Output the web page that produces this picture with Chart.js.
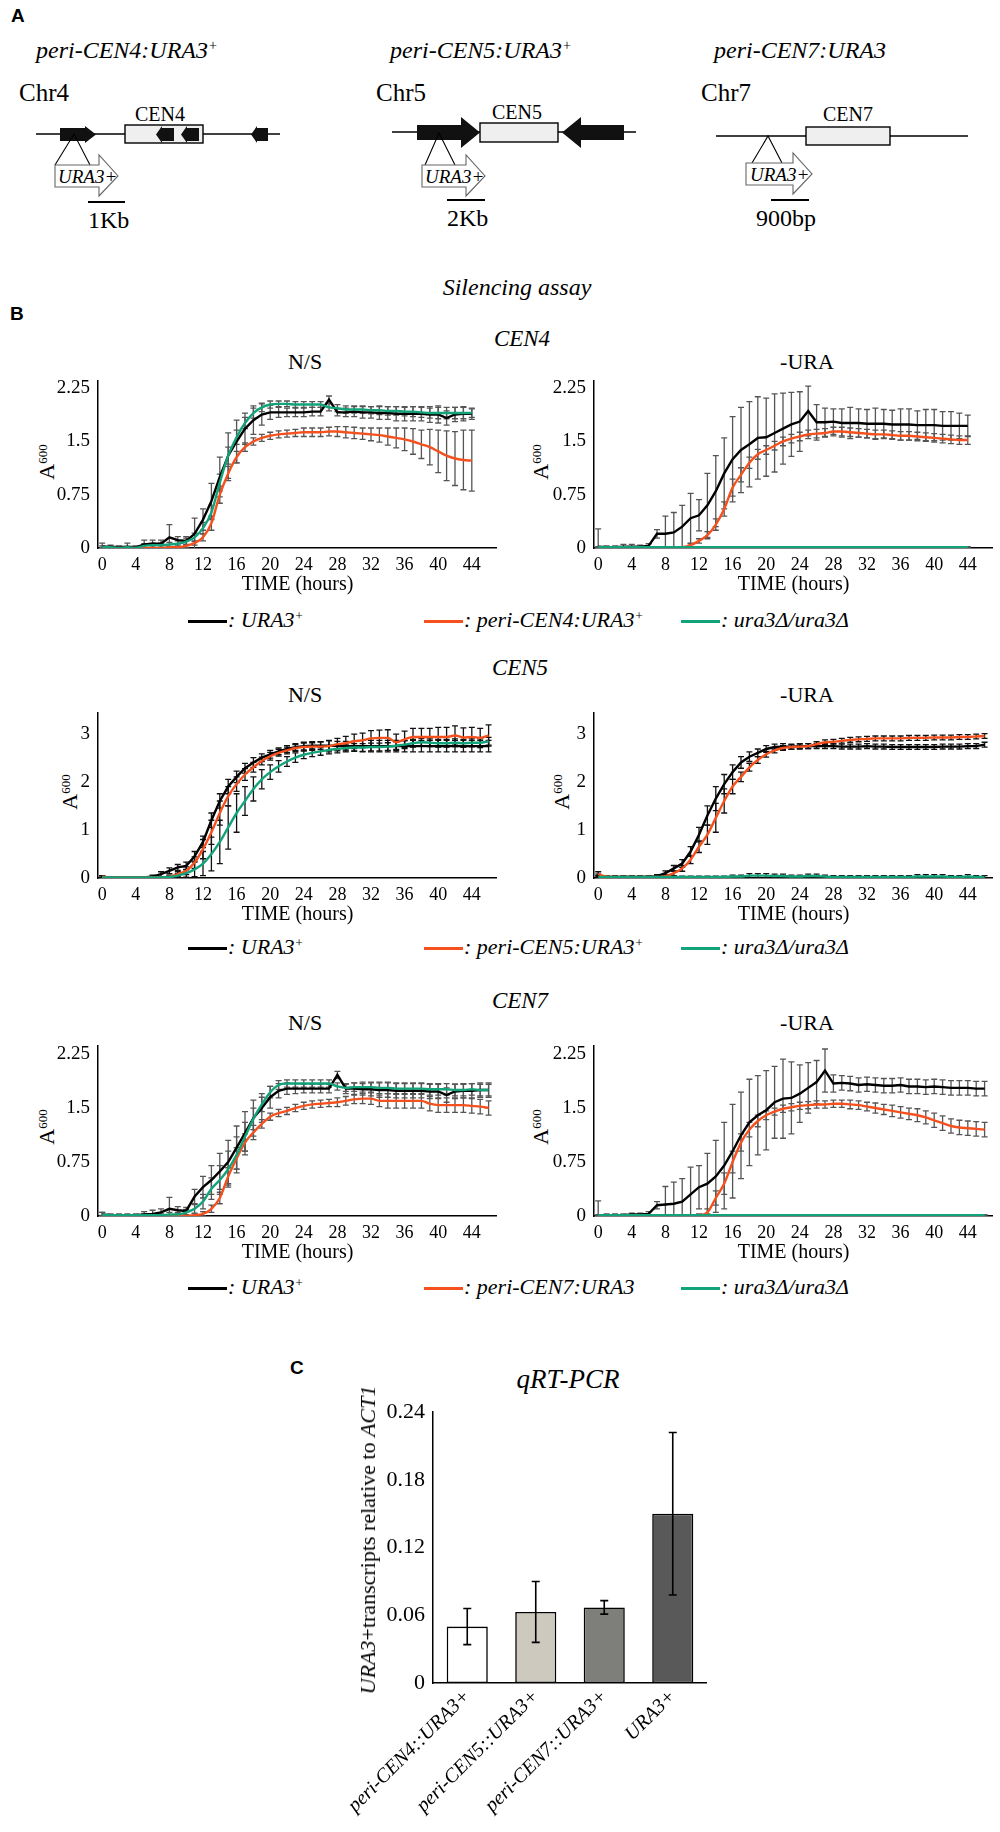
<!DOCTYPE html>
<html>
<head>
<meta charset="utf-8">
<script src="https://cdn.jsdelivr.net/npm/chart.js@4.4.0/dist/chart.umd.min.js"></script>
<style>
  body { margin: 0; background: #fff; }
  #page { position: relative; width: 1000px; height: 1832px; overflow: hidden; background: #fff;
          font-family: 'Liberation Serif', 'Times New Roman', serif; color: #000; }
  .t { position: absolute; white-space: nowrap; line-height: 1; }
  .c { transform: translateX(-50%); }
  .i { font-style: italic; }
  .lab { font-family: 'Liberation Sans', Arial, sans-serif; font-weight: bold; font-size: 19px; }
  .rot { position: absolute; white-space: nowrap; line-height: 1; transform: translate(-50%, -50%) rotate(-90deg); }
  sup { font-size: 0.6em; vertical-align: 0.55em; line-height: 0; }
  .sw { display: inline-block; width: 39px; height: 3px; vertical-align: middle; margin-right: 1px; }
  .leg { font-size: 22px; }
  canvas { position: absolute; }
</style>
</head>
<body>
<div id="page">

  <!-- Panel A -->
  <div class="t lab" style="left:11px;top:6px">A</div>
  <div class="t i" style="left:36px;top:38px;font-size:24px">peri-CEN4:URA3<sup>+</sup></div>
  <div class="t i" style="left:390px;top:38px;font-size:24px">peri-CEN5:URA3<sup>+</sup></div>
  <div class="t i" style="left:714px;top:38px;font-size:24px">peri-CEN7:URA3</div>
  <div class="t" style="left:19px;top:80px;font-size:25px">Chr4</div>
  <div class="t" style="left:376px;top:80px;font-size:25px">Chr5</div>
  <div class="t" style="left:701px;top:80px;font-size:25px">Chr7</div>

  <svg width="1000" height="240" style="position:absolute;left:0;top:0" font-family="Liberation Serif, Times New Roman, serif">
    <!-- CEN4 locus -->
    <line x1="36" y1="134" x2="280" y2="134" stroke="#000" stroke-width="1.4"/>
    <polygon points="60,128 85,128 85,126 96,134.5 85,143 85,141 60,141" fill="#111"/>
    <rect x="125" y="125" width="78" height="18" fill="#efefef" stroke="#000" stroke-width="1.4"/>
    <polygon points="174,128 162,128 162,126 156,134.5 162,143 162,141 174,141" fill="#111"/>
    <polygon points="199,128 187,128 187,126 181,134.5 187,143 187,141 199,141" fill="#111"/>
    <polygon points="268,128 257,128 257,126 251,134.5 257,143 257,141 268,141" fill="#111"/>
    <text x="160" y="121" font-size="20" text-anchor="middle">CEN4</text>
    <polyline points="55,165 74,134 90,165" fill="none" stroke="#000" stroke-width="1.1"/>
    <polygon points="55,165 99,165 99,155 118,176 99,196 99,187 55,187" fill="#fff" stroke="#666" stroke-width="1.1"/>
    <text x="58" y="183" font-size="19" font-style="italic">URA3+</text>
    <line x1="88" y1="202" x2="125" y2="202" stroke="#000" stroke-width="2"/>
    <text x="88" y="228" font-size="24">1Kb</text>

    <!-- CEN5 locus -->
    <line x1="392" y1="132" x2="636" y2="132" stroke="#000" stroke-width="1.4"/>
    <polygon points="417,125 461,125 461,117 480,132.5 461,148 461,140 417,140" fill="#111"/>
    <rect x="480" y="123" width="78" height="19" fill="#efefef" stroke="#000" stroke-width="1.4"/>
    <polygon points="624,125 581,125 581,117 562,132.5 581,148 581,140 624,140" fill="#111"/>
    <text x="517" y="119" font-size="20" text-anchor="middle">CEN5</text>
    <polyline points="425,165 439,133 455,165" fill="none" stroke="#000" stroke-width="1.1"/>
    <polygon points="422,165 466,165 466,155 485,176 466,196 466,187 422,187" fill="#fff" stroke="#666" stroke-width="1.1"/>
    <text x="425" y="183" font-size="19" font-style="italic">URA3+</text>
    <line x1="447" y1="200" x2="485" y2="200" stroke="#000" stroke-width="2"/>
    <text x="447" y="226" font-size="24">2Kb</text>

    <!-- CEN7 locus -->
    <line x1="716" y1="136" x2="968" y2="136" stroke="#000" stroke-width="1.4"/>
    <rect x="806" y="127" width="84" height="18" fill="#efefef" stroke="#000" stroke-width="1.4"/>
    <text x="848" y="121" font-size="20" text-anchor="middle">CEN7</text>
    <polyline points="752,163 768,136 782,163" fill="none" stroke="#000" stroke-width="1.1"/>
    <polygon points="746,163 793,163 793,153 812,174 793,194 793,185 746,185" fill="#fff" stroke="#666" stroke-width="1.1"/>
    <text x="750" y="181" font-size="19" font-style="italic">URA3+</text>
    <line x1="771" y1="200" x2="809" y2="200" stroke="#000" stroke-width="2"/>
    <text x="756" y="226" font-size="24">900bp</text>
  </svg>

  <!-- Panel B -->
  <div class="t i c" style="left:517px;top:275px;font-size:24px">Silencing assay</div>
  <div class="t lab" style="left:10px;top:304px">B</div>

  <div class="t i c" style="left:522px;top:327px;font-size:23px">CEN4</div>
  <div class="t c" style="left:305px;top:351px;font-size:22px">N/S</div>
  <div class="t c" style="left:807px;top:351px;font-size:22px">-URA</div>
  <div class="rot" style="left:47px;top:462px;font-size:22px">A<sup style="font-size:13px">600</sup></div>
  <div class="rot" style="left:541px;top:462px;font-size:22px">A<sup style="font-size:13px">600</sup></div>
  <canvas id="c4ns" width="457" height="236" style="left:40px;top:361px"></canvas>
  <canvas id="c4ura" width="457" height="236" style="left:536px;top:361px"></canvas>
  <div class="t leg" style="left:188px;top:609px"><span class="sw" style="background:#000"></span><span class="i">: URA3<sup>+</sup></span></div>
  <div class="t leg" style="left:424px;top:609px"><span class="sw" style="background:#f4511e"></span><span class="i">: peri-CEN4:URA3<sup>+</sup></span></div>
  <div class="t leg" style="left:681px;top:609px"><span class="sw" style="background:#13a37b"></span><span class="i">: ura3&#916;/ura3&#916;</span></div>

  <div class="t i c" style="left:520px;top:656px;font-size:23px">CEN5</div>
  <div class="t c" style="left:305px;top:684px;font-size:22px">N/S</div>
  <div class="t c" style="left:807px;top:684px;font-size:22px">-URA</div>
  <div class="rot" style="left:70px;top:792px;font-size:22px">A<sup style="font-size:13px">600</sup></div>
  <div class="rot" style="left:562px;top:792px;font-size:22px">A<sup style="font-size:13px">600</sup></div>
  <canvas id="c5ns" width="457" height="234" style="left:40px;top:693px"></canvas>
  <canvas id="c5ura" width="457" height="234" style="left:536px;top:693px"></canvas>
  <div class="t leg" style="left:188px;top:936px"><span class="sw" style="background:#000"></span><span class="i">: URA3<sup>+</sup></span></div>
  <div class="t leg" style="left:424px;top:936px"><span class="sw" style="background:#f4511e"></span><span class="i">: peri-CEN5:URA3<sup>+</sup></span></div>
  <div class="t leg" style="left:681px;top:936px"><span class="sw" style="background:#13a37b"></span><span class="i">: ura3&#916;/ura3&#916;</span></div>

  <div class="t i c" style="left:520px;top:989px;font-size:23px">CEN7</div>
  <div class="t c" style="left:305px;top:1012px;font-size:22px">N/S</div>
  <div class="t c" style="left:807px;top:1012px;font-size:22px">-URA</div>
  <div class="rot" style="left:47px;top:1127px;font-size:22px">A<sup style="font-size:13px">600</sup></div>
  <div class="rot" style="left:541px;top:1127px;font-size:22px">A<sup style="font-size:13px">600</sup></div>
  <canvas id="c7ns" width="457" height="239" style="left:40px;top:1026px"></canvas>
  <canvas id="c7ura" width="457" height="239" style="left:536px;top:1026px"></canvas>
  <div class="t leg" style="left:188px;top:1276px"><span class="sw" style="background:#000"></span><span class="i">: URA3<sup>+</sup></span></div>
  <div class="t leg" style="left:424px;top:1276px"><span class="sw" style="background:#f4511e"></span><span class="i">: peri-CEN7:URA3</span></div>
  <div class="t leg" style="left:681px;top:1276px"><span class="sw" style="background:#13a37b"></span><span class="i">: ura3&#916;/ura3&#916;</span></div>

  <!-- Panel C -->
  <div class="t lab" style="left:290px;top:1358px">C</div>
  <div class="t i c" style="left:568px;top:1366px;font-size:27px">qRT-PCR</div>
  <canvas id="qpcr" width="407" height="441" style="left:300px;top:1391px"></canvas>
  <div class="rot" style="left:368px;top:1540px;font-size:22px;z-index:2"><span class="i">URA3</span>+transcripts relative to <span class="i">ACT1</span></div>
</div>

<script>
// time points (hours) and axis ticks
const hours = [0,1,2,3,4,5,6,7,8,9,10,11,12,13,14,15,16,17,18,19,20,21,22,23,24,25,26,27,28,29,30,31,32,33,34,35,36,37,38,39,40,41,42,43,44,45,46];
const xTicks = [0,4,8,12,16,20,24,28,32,36,40,44];
const yTicks225 = [0,0.75,1.5,2.25];
const yTicks3 = [0,1,2,3];

// CEN4, N/S (hours 0-44)
const cen4NsUra3    = [0.02,0.02,0.01,0.02,0.01,0.05,0.06,0.06,0.15,0.11, 0.10,0.20,0.40,0.66,1.00,1.30,1.50,1.68,1.80,1.88, 1.91,1.91,1.91,1.91,1.91,1.92,1.92,2.09,1.91,1.91, 1.92,1.91,1.91,1.90,1.90,1.89,1.89,1.89,1.89,1.88, 1.88,1.83,1.88,1.89,1.89];
const cen4NsUra3Err = [0.05,0.02,0.02,0.05,0.02,0.06,0.05,0.05,0.18,0.05, 0.06,0.22,0.15,0.25,0.28,0.32,0.30,0.22,0.20,0.15, 0.10,0.07,0.06,0.06,0.06,0.06,0.06,0.05,0.05,0.06, 0.07,0.08,0.08,0.09,0.09,0.10,0.10,0.10,0.10,0.11, 0.12,0.10,0.10,0.10,0.08];
const cen4NsPeri    = [0,0,0,0,0,0,0,0,0.01,0.01, 0.03,0.07,0.15,0.35,0.75,1.05,1.28,1.42,1.50,1.55, 1.58,1.60,1.61,1.62,1.63,1.63,1.63,1.64,1.64,1.63, 1.62,1.61,1.60,1.59,1.57,1.55,1.53,1.50,1.46,1.42, 1.36,1.30,1.26,1.24,1.23];
const cen4NsPeriErr = [0.01,0.01,0.01,0.01,0.01,0.01,0.01,0.01,0.01,0.02, 0.02,0.03,0.05,0.10,0.12,0.10,0.08,0.06,0.05,0.05, 0.05,0.05,0.05,0.05,0.06,0.06,0.06,0.06,0.07,0.08, 0.08,0.08,0.09,0.10,0.12,0.14,0.16,0.18,0.20,0.25, 0.30,0.35,0.38,0.42,0.43];
const cen4NsDel     = [0.01,0.01,0,0.01,0,0.03,0.04,0.04,0.05,0.06, 0.09,0.15,0.28,0.50,0.92,1.30,1.56,1.76,1.90,1.98, 2.02,2.03,2.03,2.02,2.02,2.02,2.02,1.98,1.97,1.95, 1.95,1.95,1.94,1.94,1.93,1.93,1.92,1.92,1.91,1.90, 1.90,1.90,1.90,1.90,1.90];
const cen4NsDelErr  = [0.02,0.01,0.01,0.01,0.01,0.03,0.03,0.03,0.03,0.04, 0.05,0.06,0.08,0.10,0.12,0.12,0.10,0.08,0.07,0.06, 0.05,0.04,0.04,0.04,0.04,0.04,0.04,0.05,0.05,0.05, 0.05,0.05,0.05,0.06,0.06,0.06,0.06,0.07,0.07,0.07, 0.08,0.08,0.08,0.08,0.06];

// CEN4, -URA (hours 0-44)
const cen4UraUra3    = [0.02,0.01,0.01,0.02,0.02,0.02,0.03,0.20,0.20,0.22, 0.30,0.42,0.46,0.60,0.80,1.05,1.25,1.38,1.46,1.55, 1.56,1.62,1.68,1.74,1.78,1.93,1.77,1.77,1.78,1.76, 1.76,1.76,1.75,1.75,1.75,1.74,1.74,1.74,1.73,1.73, 1.73,1.72,1.72,1.72,1.72];
const cen4UraUra3Err = [0.25,0.02,0.02,0.03,0.03,0.02,0.03,0.06,0.25,0.28, 0.30,0.35,0.22,0.45,0.50,0.50,0.60,0.60,0.60,0.58, 0.55,0.55,0.50,0.45,0.42,0.35,0.25,0.20,0.18,0.20, 0.22,0.20,0.20,0.22,0.20,0.20,0.22,0.22,0.20,0.22, 0.22,0.20,0.20,0.18,0.15];
const cen4UraPeri    = [0,0,0,0,0,0,0,0,0,0, 0.01,0.04,0.10,0.18,0.33,0.55,0.85,1.03,1.20,1.32, 1.38,1.44,1.50,1.54,1.57,1.60,1.61,1.62,1.64,1.64, 1.63,1.62,1.61,1.60,1.60,1.59,1.58,1.58,1.57,1.56, 1.55,1.54,1.53,1.52,1.52];
const cen4UraPeriErr = [0.01,0.01,0.01,0.01,0.01,0.01,0.01,0.01,0.01,0.01, 0.01,0.02,0.03,0.05,0.08,0.10,0.12,0.10,0.08,0.07, 0.06,0.06,0.06,0.06,0.06,0.06,0.06,0.06,0.06,0.06, 0.06,0.06,0.06,0.06,0.06,0.06,0.06,0.06,0.06,0.06, 0.06,0.06,0.06,0.06,0.06];
const cen4UraDel     = [0.01,0.01,0.01,0.01,0.01,0.01,0.01,0.01,0.01,0.01, 0.01,0.01,0.01,0.01,0.01,0.01,0.01,0.01,0.01,0.01, 0.01,0.01,0.01,0.01,0.01,0.01,0.01,0.01,0.01,0.01, 0.01,0.01,0.01,0.01,0.01,0.01,0.01,0.01,0.01,0.01, 0.01,0.01,0.01,0.01,0.01];
const cen4UraDelErr  = [0.01,0.01,0.01,0.01,0.01,0.01,0.01,0.01,0.01,0.01, 0.01,0.01,0.01,0.01,0.01,0.01,0.01,0.01,0.01,0.01, 0.01,0.01,0.01,0.01,0.01,0.01,0.01,0.01,0.01,0.01, 0.01,0.01,0.01,0.01,0.01,0.01,0.01,0.01,0.01,0.01, 0.01,0.01,0.01,0.01,0.01];

// CEN5, N/S (hours 0-46)
const cen5NsUra3    = [0.02,0.01,0.01,0.01,0.01,0.01,0.03,0.08,0.15,0.22, 0.25,0.45,0.75,1.20,1.60,1.90,2.10,2.28,2.40,2.50, 2.57,2.63,2.68,2.72,2.74,2.75,2.75,2.75,2.74,2.74, 2.74,2.74,2.74,2.74,2.74,2.74,2.74,2.74,2.74,2.74, 2.74,2.74,2.74,2.74,2.74,2.74,2.74];
const cen5NsUra3Err = [0.03,0.02,0.02,0.02,0.02,0.02,0.03,0.05,0.06,0.06, 0.08,0.10,0.12,0.15,0.15,0.15,0.12,0.10,0.10,0.08, 0.08,0.07,0.07,0.07,0.08,0.08,0.08,0.10,0.10,0.10, 0.10,0.12,0.12,0.12,0.12,0.12,0.12,0.12,0.12,0.12, 0.12,0.12,0.12,0.12,0.12,0.12,0.12];
const cen5NsPeri    = [0.03,0.01,0.01,0.01,0.01,0.01,0.01,0.01,0.03,0.08, 0.15,0.32,0.60,0.95,1.35,1.70,1.95,2.15,2.30,2.43, 2.53,2.60,2.65,2.70,2.72,2.73,2.73,2.74,2.78,2.80, 2.84,2.86,2.90,2.91,2.91,2.82,2.88,2.93,2.93,2.93, 2.93,2.93,2.96,2.92,2.93,2.91,2.96];
const cen5NsPeriErr = [0.02,0.01,0.01,0.01,0.01,0.01,0.01,0.02,0.03,0.05, 0.08,0.12,0.20,0.25,0.25,0.20,0.15,0.12,0.10,0.08, 0.08,0.07,0.07,0.07,0.08,0.08,0.10,0.12,0.12,0.14, 0.15,0.15,0.16,0.16,0.17,0.17,0.17,0.18,0.18,0.18, 0.20,0.20,0.20,0.20,0.20,0.20,0.22];
const cen5NsDel     = [0.01,0.01,0.01,0.01,0.01,0.01,0.01,0.01,0.02,0.05, 0.10,0.18,0.30,0.50,0.75,1.05,1.35,1.60,1.85,2.05, 2.20,2.32,2.42,2.50,2.56,2.60,2.63,2.66,2.68,2.70, 2.71,2.71,2.72,2.72,2.73,2.75,2.77,2.80,2.82,2.81, 2.80,2.80,2.81,2.80,2.81,2.81,2.84];
const cen5NsDelErr  = [0.01,0.01,0.01,0.01,0.01,0.01,0.01,0.01,0.02,0.04, 0.08,0.15,0.25,0.35,0.45,0.45,0.40,0.30,0.25,0.20, 0.15,0.12,0.10,0.10,0.08,0.08,0.08,0.08,0.08,0.08, 0.08,0.08,0.08,0.08,0.08,0.08,0.08,0.08,0.08,0.08, 0.08,0.08,0.08,0.08,0.08,0.08,0.08];

// CEN5, -URA (hours 0-46)
const cen5UraUra3    = [0.03,0.02,0.02,0.02,0.02,0.02,0.02,0.04,0.10,0.20, 0.30,0.55,0.90,1.30,1.65,1.95,2.20,2.40,2.52,2.60, 2.68,2.72,2.73,2.73,2.74,2.74,2.74,2.74,2.74,2.73, 2.73,2.73,2.74,2.73,2.73,2.72,2.72,2.72,2.72,2.72, 2.72,2.73,2.73,2.73,2.74,2.74,2.77];
const cen5UraUra3Err = [0.05,0.02,0.02,0.02,0.02,0.02,0.02,0.03,0.05,0.06, 0.08,0.10,0.15,0.20,0.25,0.20,0.15,0.12,0.10,0.08, 0.07,0.06,0.06,0.05,0.05,0.05,0.05,0.05,0.05,0.05, 0.05,0.05,0.05,0.05,0.05,0.05,0.05,0.05,0.05,0.05, 0.05,0.05,0.05,0.05,0.05,0.05,0.05];
const cen5UraPeri    = [0.08,0.03,0.02,0.02,0.02,0.02,0.02,0.02,0.04,0.10, 0.20,0.38,0.65,0.90,1.25,1.60,1.90,2.10,2.30,2.45, 2.57,2.65,2.70,2.72,2.73,2.74,2.78,2.82,2.83,2.85, 2.87,2.88,2.89,2.90,2.90,2.90,2.90,2.91,2.91,2.91, 2.92,2.92,2.92,2.93,2.93,2.94,2.95];
const cen5UraPeriErr = [0.05,0.02,0.02,0.02,0.02,0.02,0.02,0.02,0.03,0.05, 0.06,0.08,0.12,0.20,0.30,0.25,0.15,0.10,0.08,0.07, 0.06,0.05,0.05,0.05,0.05,0.05,0.05,0.05,0.05,0.05, 0.05,0.05,0.05,0.05,0.05,0.05,0.05,0.05,0.05,0.05, 0.05,0.05,0.05,0.05,0.05,0.05,0.05];
const cen5UraDel     = [0.02,0.02,0.02,0.02,0.02,0.02,0.02,0.02,0.02,0.02, 0.02,0.02,0.02,0.02,0.02,0.02,0.03,0.03,0.05,0.05, 0.05,0.04,0.04,0.03,0.03,0.04,0.04,0.03,0.02,0.02, 0.02,0.02,0.02,0.02,0.02,0.02,0.02,0.02,0.03,0.03, 0.03,0.03,0.02,0.02,0.03,0.02,0.02];
const cen5UraDelErr  = [0.03,0.02,0.02,0.02,0.02,0.02,0.02,0.02,0.02,0.02, 0.02,0.02,0.02,0.02,0.02,0.02,0.03,0.03,0.04,0.04, 0.04,0.04,0.04,0.03,0.03,0.04,0.04,0.03,0.03,0.03, 0.03,0.03,0.03,0.03,0.03,0.03,0.03,0.03,0.04,0.04, 0.04,0.04,0.03,0.03,0.04,0.03,0.03];

// CEN7, N/S (hours 0-46)
const cen7NsUra3    = [0.02,0.01,0.01,0.01,0.01,0.02,0.03,0.05,0.10,0.08, 0.07,0.27,0.40,0.50,0.62,0.75,0.95,1.15,1.36,1.50, 1.65,1.74,1.77,1.77,1.77,1.77,1.77,1.77,1.96,1.77, 1.77,1.76,1.76,1.75,1.75,1.74,1.74,1.74,1.74,1.73, 1.73,1.68,1.73,1.74,1.74,1.75,1.75];
const cen7NsUra3Err = [0.03,0.02,0.02,0.02,0.02,0.04,0.05,0.05,0.16,0.05, 0.05,0.10,0.15,0.20,0.25,0.30,0.30,0.30,0.25,0.20, 0.15,0.10,0.08,0.07,0.06,0.06,0.06,0.06,0.05,0.07, 0.08,0.08,0.09,0.10,0.10,0.10,0.10,0.10,0.10,0.10, 0.10,0.10,0.10,0.10,0.10,0.10,0.10];
const cen7NsPeri    = [0,0,0,0,0,0,0,0,0,0, 0,0.01,0.03,0.10,0.25,0.55,0.80,1.02,1.16,1.28, 1.38,1.43,1.46,1.50,1.53,1.55,1.56,1.57,1.58,1.60, 1.62,1.63,1.63,1.60,1.60,1.60,1.60,1.60,1.60,1.56, 1.54,1.54,1.54,1.54,1.53,1.52,1.50];
const cen7NsPeriErr = [0.01,0.01,0.01,0.01,0.01,0.01,0.01,0.01,0.01,0.01, 0.01,0.02,0.03,0.05,0.08,0.12,0.15,0.12,0.10,0.06, 0.05,0.05,0.05,0.05,0.05,0.05,0.05,0.05,0.06,0.06, 0.06,0.07,0.08,0.08,0.10,0.10,0.10,0.10,0.10,0.10, 0.10,0.10,0.10,0.10,0.10,0.10,0.10];
const cen7NsDel     = [0.02,0.01,0.01,0.01,0.01,0.01,0.01,0.01,0.02,0.02, 0.05,0.10,0.20,0.38,0.50,0.65,0.85,1.10,1.35,1.55, 1.72,1.82,1.84,1.84,1.84,1.84,1.84,1.84,1.80,1.78, 1.79,1.79,1.79,1.78,1.78,1.77,1.77,1.77,1.77,1.76, 1.76,1.76,1.75,1.75,1.76,1.75,1.75];
const cen7NsDelErr  = [0.03,0.01,0.01,0.01,0.01,0.02,0.02,0.02,0.03,0.03, 0.04,0.06,0.10,0.15,0.20,0.25,0.25,0.20,0.15,0.10, 0.08,0.06,0.05,0.05,0.05,0.05,0.05,0.05,0.05,0.05, 0.06,0.07,0.07,0.08,0.08,0.08,0.08,0.08,0.08,0.08, 0.08,0.08,0.08,0.08,0.08,0.08,0.08];

// CEN7, -URA (hours 0-46)
const cen7UraUra3    = [0.01,0.01,0.01,0.01,0.02,0.02,0.03,0.15,0.16,0.17, 0.20,0.30,0.40,0.45,0.55,0.70,0.90,1.12,1.30,1.40, 1.47,1.58,1.63,1.64,1.70,1.78,1.86,2.02,1.84,1.85, 1.84,1.82,1.83,1.82,1.81,1.81,1.82,1.80,1.80,1.79, 1.80,1.79,1.78,1.78,1.78,1.77,1.77];
const cen7UraUra3Err = [0.20,0.02,0.02,0.02,0.02,0.02,0.03,0.05,0.25,0.30, 0.32,0.38,0.30,0.42,0.50,0.60,0.65,0.60,0.60,0.55, 0.55,0.50,0.55,0.50,0.40,0.35,0.30,0.30,0.12,0.10, 0.10,0.10,0.10,0.10,0.10,0.10,0.10,0.10,0.10,0.10, 0.10,0.10,0.10,0.10,0.10,0.10,0.10];
const cen7UraPeri    = [0,0,0,0,0,0,0,0,0,0, 0,0,0.01,0.05,0.25,0.45,0.75,1.02,1.20,1.32, 1.40,1.45,1.49,1.51,1.53,1.54,1.55,1.55,1.56,1.56, 1.55,1.54,1.52,1.50,1.48,1.46,1.44,1.42,1.40,1.37, 1.33,1.29,1.25,1.23,1.22,1.21,1.20];
const cen7UraPeriErr = [0.01,0.01,0.01,0.01,0.01,0.01,0.01,0.01,0.01,0.01, 0.01,0.01,0.02,0.05,0.10,0.15,0.15,0.12,0.10,0.08, 0.06,0.05,0.05,0.05,0.05,0.05,0.05,0.05,0.05,0.05, 0.06,0.06,0.06,0.07,0.07,0.08,0.08,0.08,0.09,0.09, 0.10,0.10,0.10,0.10,0.10,0.10,0.10];
const cen7UraDel     = [0.01,0.01,0.01,0.01,0.01,0.01,0.01,0.01,0.01,0.01, 0.01,0.01,0.01,0.01,0.01,0.01,0.01,0.01,0.01,0.01, 0.01,0.01,0.01,0.01,0.01,0.01,0.01,0.01,0.01,0.01, 0.01,0.01,0.01,0.01,0.01,0.01,0.01,0.01,0.01,0.01, 0.01,0.01,0.01,0.01,0.01,0.01,0.01];
const cen7UraDelErr  = [0.01,0.01,0.01,0.01,0.01,0.01,0.01,0.01,0.01,0.01, 0.01,0.01,0.01,0.01,0.01,0.01,0.01,0.01,0.01,0.01, 0.01,0.01,0.01,0.01,0.01,0.01,0.01,0.01,0.01,0.01, 0.01,0.01,0.01,0.01,0.01,0.01,0.01,0.01,0.01,0.01, 0.01,0.01,0.01,0.01,0.01,0.01,0.01];

// qRT-PCR
const strains = ['peri-CEN4::URA3+', 'peri-CEN5::URA3+', 'peri-CEN7::URA3+', 'URA3+'];
const ura3Transcripts = [0.050, 0.063, 0.067, 0.150];
const ura3TranscriptsErr = [0.016, 0.027, 0.006, 0.072];
const barColors = ['#ffffff', '#cdc9bf', '#7e7e7a', '#595959'];
const qpcrTicks = [0, 0.06, 0.12, 0.18, 0.24];

const BLACK = '#000000', ORANGE = '#f4511e', GREEN = '#13a37b';

Chart.defaults.font.family = "'Liberation Serif', 'Times New Roman', serif";
Chart.defaults.color = '#000';

// draws +/- error bars for every dataset that carries an "errors" array
function drawErrors(chart, opts) {
  const { ctx, chartArea } = chart;
  const yScale = chart.scales.y;
  ctx.save();
  ctx.beginPath();
  ctx.rect(chartArea.left - 5, chartArea.top - 30, chartArea.right - chartArea.left + 10, chartArea.bottom - chartArea.top + 30);
  ctx.clip();
  ctx.strokeStyle = opts.color;
  ctx.lineWidth = opts.width;
  chart.data.datasets.forEach((ds, i) => {
    if (!ds.errors) return;
    const meta = chart.getDatasetMeta(i);
    meta.data.forEach((el, j) => {
      const e = ds.errors[j];
      if (!e) return;
      const v = ds.data[j];
      const yTop = yScale.getPixelForValue(v + e);
      const yBot = yScale.getPixelForValue(v - e);
      const x = el.x, c = opts.cap;
      ctx.beginPath();
      ctx.moveTo(x, yTop); ctx.lineTo(x, yBot);
      ctx.moveTo(x - c, yTop); ctx.lineTo(x + c, yTop);
      ctx.moveTo(x - c, yBot); ctx.lineTo(x + c, yBot);
      ctx.stroke();
    });
  });
  ctx.restore();
}

const errBars = {
  id: 'errBars',
  beforeDatasetsDraw(chart, args, opts) { if (!opts.front) drawErrors(chart, opts); },
  afterDatasetsDraw(chart, args, opts) { if (opts.front) drawErrors(chart, opts); }
};

function growthChart(id, xs, sets, yMax, yTicks, errColor) {
  return new Chart(document.getElementById(id), {
    type: 'line',
    data: {
      labels: xs,
      datasets: sets.map(s => ({
        data: s.data,
        errors: s.err,
        borderColor: s.color,
        borderWidth: 2.4,
        pointRadius: 0,
        fill: false,
        tension: s.smooth ? 0.4 : 0,
        cubicInterpolationMode: s.smooth ? 'monotone' : 'default',
        order: s.order
      }))
    },
    options: {
      responsive: false,
      animation: false,
      layout: { padding: { top: 12, left: 0, right: 0, bottom: 0 } },
      plugins: {
        legend: { display: false },
        tooltip: { enabled: false },
        errBars: { color: errColor, cap: 3, width: 1.3 }
      },
      scales: {
        x: {
          type: 'linear',
          min: -0.5,
          max: 47,
          grid: { display: false, drawTicks: false },
          border: { display: true, color: '#000', width: 1.5 },
          ticks: { font: { size: 18 }, padding: 6, maxRotation: 0, autoSkip: false, callback: v => String(v) },
          afterBuildTicks: s => { s.ticks = xTicks.map(v => ({ value: v })); },
          afterFit: s => { s.height = 49; },
          title: { display: true, text: 'TIME (hours)', font: { size: 20 }, padding: 0 }
        },
        y: {
          min: 0,
          max: yMax,
          grid: { display: false, drawTicks: false },
          border: { display: true, color: '#000', width: 1.5 },
          ticks: { font: { size: 19 }, padding: 8, autoSkip: false, callback: v => String(v) },
          afterBuildTicks: s => { s.ticks = yTicks.map(v => ({ value: v })); },
          afterFit: s => { s.width = 58; }
        }
      }
    },
    plugins: [errBars]
  });
}

function strainSets(wt, wtErr, peri, periErr, del, delErr) {
  return [
    { data: wt, err: wtErr, color: BLACK, smooth: false, order: 3 },
    { data: peri, err: periErr, color: ORANGE, smooth: true, order: 2 },
    { data: del, err: delErr, color: GREEN, smooth: true, order: 1 }
  ];
}

const hours44 = hours.slice(0, 45);

growthChart('c4ns', hours44, strainSets(cen4NsUra3, cen4NsUra3Err, cen4NsPeri, cen4NsPeriErr, cen4NsDel, cen4NsDelErr), 2.36, yTicks225, '#555');
growthChart('c4ura', hours44, strainSets(cen4UraUra3, cen4UraUra3Err, cen4UraPeri, cen4UraPeriErr, cen4UraDel, cen4UraDelErr), 2.36, yTicks225, '#555');
growthChart('c5ns', hours, strainSets(cen5NsUra3, cen5NsUra3Err, cen5NsPeri, cen5NsPeriErr, cen5NsDel, cen5NsDelErr), 3.44, yTicks3, '#111');
growthChart('c5ura', hours, strainSets(cen5UraUra3, cen5UraUra3Err, cen5UraPeri, cen5UraPeriErr, cen5UraDel, cen5UraDelErr), 3.44, yTicks3, '#111');
growthChart('c7ns', hours, strainSets(cen7NsUra3, cen7NsUra3Err, cen7NsPeri, cen7NsPeriErr, cen7NsDel, cen7NsDelErr), 2.37, yTicks225, '#555');
growthChart('c7ura', hours, strainSets(cen7UraUra3, cen7UraUra3Err, cen7UraPeri, cen7UraPeriErr, cen7UraDel, cen7UraDelErr), 2.37, yTicks225, '#555');

// qRT-PCR bar chart
new Chart(document.getElementById('qpcr'), {
  type: 'bar',
  data: {
    labels: strains,
    datasets: [{
      data: ura3Transcripts,
      errors: ura3TranscriptsErr,
      backgroundColor: barColors,
      borderColor: '#000',
      borderWidth: 1.6,
      borderSkipped: false,
      categoryPercentage: 1,
      barPercentage: 0.6
    }]
  },
  options: {
    responsive: false,
    animation: false,
    layout: { padding: { top: 12, left: 0, right: 0, bottom: 0 } },
    plugins: {
      legend: { display: false },
      tooltip: { enabled: false },
      errBars: { color: '#000', cap: 4, width: 1.6, front: true }
    },
    scales: {
      x: {
        grid: { display: false, drawTicks: false },
        border: { display: true, color: '#000', width: 1.5 },
        ticks: { font: { size: 20, style: 'italic' }, padding: 2, minRotation: 45, maxRotation: 45, autoSkip: false },
        afterFit: s => { s.height = 149; }
      },
      y: {
        min: 0,
        max: 0.24,
        grid: { display: false, drawTicks: false },
        border: { display: true, color: '#000', width: 1.5 },
        ticks: { font: { size: 22 }, padding: 8, autoSkip: false, callback: v => String(v) },
        afterBuildTicks: s => { s.ticks = qpcrTicks.map(v => ({ value: v })); },
        afterFit: s => { s.width = 133; }
      }
    }
  },
  plugins: [errBars]
});
</script>
</body>
</html>
